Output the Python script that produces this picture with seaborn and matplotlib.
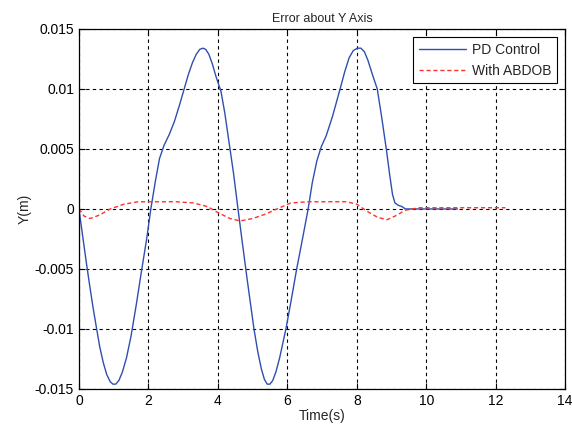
import matplotlib
matplotlib.use('Agg')
import matplotlib.pyplot as plt
import seaborn as sns
import pandas as pd
from matplotlib.ticker import FormatStrFormatter

# PD control error
t_pd = [0, 0.1, 0.2, 0.3, 0.4, 0.51, 0.6, 0.7, 0.8, 0.9, 0.98, 1.06, 1.15, 1.25, 1.37, 1.5,
        1.65, 1.8, 1.95, 2.07, 2.2, 2.32, 2.45, 2.6, 2.75, 2.9, 3.03, 3.15, 3.27, 3.38, 3.48,
        3.57, 3.65, 3.74, 3.84, 3.95, 4.09, 4.2, 4.3, 4.45, 4.58, 4.7, 4.85, 5.04, 5.15, 5.25,
        5.34, 5.42, 5.5, 5.58, 5.67, 5.78, 5.96, 6.1, 6.27, 6.45, 6.6, 6.72, 6.85, 6.98, 7.12,
        7.3, 7.52, 7.65, 7.78, 7.9, 8.02, 8.12, 8.22, 8.32, 8.44, 8.59, 8.72, 8.85, 8.95, 9.03,
        9.1, 9.2, 9.3, 9.4, 10.9]
y_pd = [0, -0.0021, -0.0042, -0.0062, -0.0081, -0.0100, -0.0115, -0.0128, -0.0138, -0.0144,
        -0.0146, -0.0146, -0.0143, -0.0136, -0.0124, -0.0106, -0.0080, -0.0052, -0.0025, 0.0,
        0.0023, 0.0042, 0.0053, 0.0062, 0.0073, 0.0087, 0.0100, 0.0112, 0.0122, 0.0129, 0.0133,
        0.0134, 0.0133, 0.0129, 0.0121, 0.0110, 0.0098, 0.0080, 0.0060, 0.0030, 0.0, -0.0027,
        -0.0060, -0.0100, -0.0119, -0.0133, -0.0142, -0.0146, -0.0146, -0.0143, -0.0136,
        -0.0124, -0.0100, -0.0078, -0.0050, -0.0023, 0.0, 0.0022, 0.0040, 0.0052, 0.0061,
        0.0077, 0.0100, 0.0114, 0.0126, 0.0132, 0.0134, 0.0134, 0.0131, 0.0124, 0.0113, 0.0100,
        0.0076, 0.0050, 0.0028, 0.0012, 0.0005, 0.0003, 0.0002, 0.0, 0.0]

# with ABDOB
t_ab = [0, 0.15, 0.32, 0.6, 0.9, 1.3, 1.7, 2.2, 2.8, 3.3, 3.7, 4.0, 4.35, 4.64, 5.0, 5.4, 5.7,
        6.1, 6.6, 7.2, 7.7, 8.0, 8.3, 8.6, 8.87, 9.1, 9.4, 9.8, 10.5, 11.2, 12.28]
y_ab = [0, -0.0006, -0.0008, -0.0005, 0.0, 0.0004, 0.0006, 0.0006, 0.0006, 0.0005, 0.0002,
        -0.0003, -0.0008, -0.0010, -0.0008, -0.0004, 0.0, 0.0005, 0.0006, 0.0006, 0.0006,
        0.0004, -0.0002, -0.0007, -0.0009, -0.0006, -0.0001, 0.0001, 0.0001, 0.0001, 0.0001]

sns.set_style('white')
plt.rcParams['font.family'] = ['Liberation Sans', 'DejaVu Sans']
plt.rcParams['axes.unicode_minus'] = False

fig = plt.figure(figsize=(5.72, 4.26), dpi=100)
ax = fig.add_axes([0.138, 0.087, 0.85, 0.845])

df_pd = pd.DataFrame({'t': t_pd, 'y': y_pd})
df_ab = pd.DataFrame({'t': t_ab, 'y': y_ab})
sns.lineplot(data=df_pd, x='t', y='y', ax=ax, color='#2f4fb0', lw=1.0, label='PD Control')
sns.lineplot(data=df_ab, x='t', y='y', ax=ax, color='#ff3030', lw=1.0, ls=(0, (3, 2)),
             label='With ABDOB')

ax.set_xlim(0, 14)
ax.set_ylim(-0.015, 0.015)
ax.set_xticks(range(0, 15, 2))
ax.set_yticks([-0.015, -0.01, -0.005, 0, 0.005, 0.01, 0.015])
ax.yaxis.set_major_formatter(FormatStrFormatter('%g'))
ax.grid(True, color='black', ls=(0, (3, 3)), lw=0.8)
ax.tick_params(direction='in', length=4, labelsize=10, top=True, right=True,
               bottom=True, left=True, colors='black')
for s in ax.spines.values():
    s.set_color('black')
    s.set_linewidth(0.9)

ax.set_title('Error about Y Axis', fontsize=9, pad=5)
ax.set_xlabel('Time(s)', fontsize=10, labelpad=1)
ax.set_ylabel('Y(m)', fontsize=10, labelpad=2)

leg = ax.legend(loc='upper right', fontsize=10, handlelength=3.4, handletextpad=0.4,
                fancybox=False, framealpha=1, edgecolor='black', borderaxespad=0.6)
leg.get_frame().set_linewidth(0.8)

fig.savefig('out.png', dpi=100)
